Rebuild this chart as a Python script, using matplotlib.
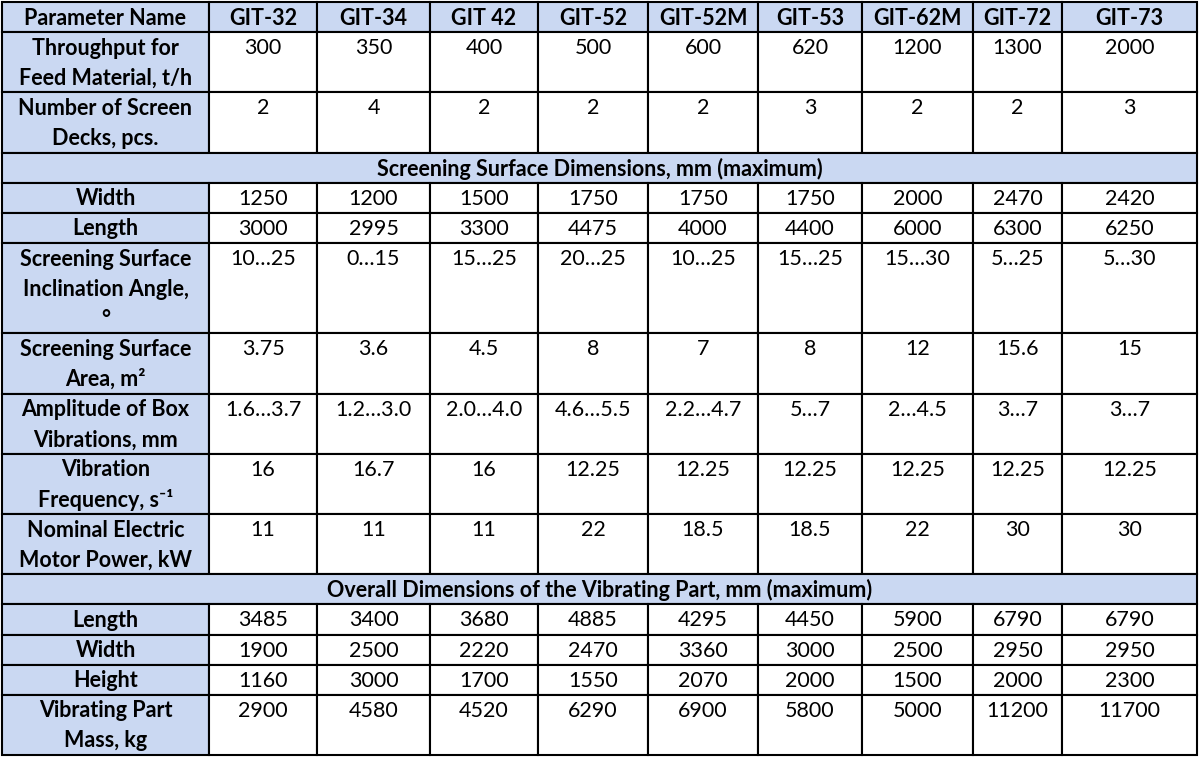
import matplotlib
matplotlib.use('Agg')
import matplotlib.pyplot as plt
from matplotlib.patches import Rectangle

plt.rcParams['font.family'] = ['Lato', 'DejaVu Sans']

# table content
models = ['GIT-32', 'GIT-34', 'GIT 42', 'GIT-52', 'GIT-52M', 'GIT-53', 'GIT-62M', 'GIT-72', 'GIT-73']
throughput = ['300', '350', '400', '500', '600', '620', '1200', '1300', '2000']
screen_decks = ['2', '4', '2', '2', '2', '3', '2', '2', '3']
surface_width = ['1250', '1200', '1500', '1750', '1750', '1750', '2000', '2470', '2420']
surface_length = ['3000', '2995', '3300', '4475', '4000', '4400', '6000', '6300', '6250']
incl_angle = ['10…25', '0…15', '15…25', '20…25', '10…25', '15…25', '15…30', '5…25', '5…30']
surface_area = ['3.75', '3.6', '4.5', '8', '7', '8', '12', '15.6', '15']
amplitude = ['1.6…3.7', '1.2…3.0', '2.0…4.0', '4.6…5.5', '2.2…4.7', '5…7', '2…4.5', '3…7', '3…7']
frequency = ['16', '16.7', '16', '12.25', '12.25', '12.25', '12.25', '12.25', '12.25']
motor_power = ['11', '11', '11', '22', '18.5', '18.5', '22', '30', '30']
overall_length = ['3485', '3400', '3680', '4885', '4295', '4450', '5900', '6790', '6790']
overall_width = ['1900', '2500', '2220', '2470', '3360', '3000', '2500', '2950', '2950']
overall_height = ['1160', '3000', '1700', '1550', '2070', '2000', '1500', '2000', '2300']
part_mass = ['2900', '4580', '4520', '6290', '6900', '5800', '5000', '11200', '11700']

rows = [
    ('head', 'Parameter Name', models),
    ('data', 'Throughput for\nFeed Material, t/h', throughput),
    ('data', 'Number of Screen\nDecks, pcs.', screen_decks),
    ('section', 'Screening Surface Dimensions, mm (maximum)', None),
    ('data', 'Width', surface_width),
    ('data', 'Length', surface_length),
    ('data', 'Screening Surface\nInclination Angle,\n°', incl_angle),
    ('data', 'Screening Surface\nArea, m²', surface_area),
    ('data', 'Amplitude of Box\nVibrations, mm', amplitude),
    ('data', 'Vibration\nFrequency, s⁻¹', frequency),
    ('data', 'Nominal Electric\nMotor Power, kW', motor_power),
    ('section', 'Overall Dimensions of the Vibrating Part, mm (maximum)', None),
    ('data', 'Length', overall_length),
    ('data', 'Width', overall_width),
    ('data', 'Height', overall_height),
    ('data', 'Vibrating Part\nMass, kg', part_mass),
]

# layout (pixels)
col_widths = [207, 108, 113, 108, 110, 110, 104, 111, 89, 135]
x0, y0 = 2, 2
line_h = 30.12
blue = '#CAD8F2'
fs = 15.5

fig = plt.figure(figsize=(12, 7.57), dpi=100)
ax = fig.add_axes([0, 0, 1, 1])
ax.set_xlim(0, 1200)
ax.set_ylim(757, 0)
ax.axis('off')

col_edges = [x0]
for w in col_widths:
    col_edges.append(col_edges[-1] + w)
x_end = col_edges[-1]

y = y0
for kind, label, vals in rows:
    n = label.count('\n') + 1
    h = line_h * n
    if kind == 'section':
        ax.add_patch(Rectangle((x0, y), x_end - x0, h, facecolor=blue, edgecolor='black', lw=1.5))
        ax.text((x0 + x_end) / 2, y + line_h / 2 + 1, label, ha='center', va='center',
                fontsize=fs, fontweight='bold')
    else:
        for i in range(len(col_widths)):
            fc = blue if (i == 0 or kind == 'head') else 'white'
            ax.add_patch(Rectangle((col_edges[i], y), col_widths[i], h, facecolor=fc,
                                   edgecolor='black', lw=1.5))
        for k, part in enumerate(label.split('\n')):
            ax.text((col_edges[0] + col_edges[1]) / 2, y + line_h * (k + 0.5) + 1, part,
                    ha='center', va='center', fontsize=fs, fontweight='bold')
        for i, v in enumerate(vals):
            ax.text((col_edges[i + 1] + col_edges[i + 2]) / 2, y + line_h / 2 + 1, v,
                    ha='center', va='center', fontsize=fs,
                    fontweight='bold' if kind == 'head' else 'normal')
    y += h

fig.savefig('out.png', dpi=100)
